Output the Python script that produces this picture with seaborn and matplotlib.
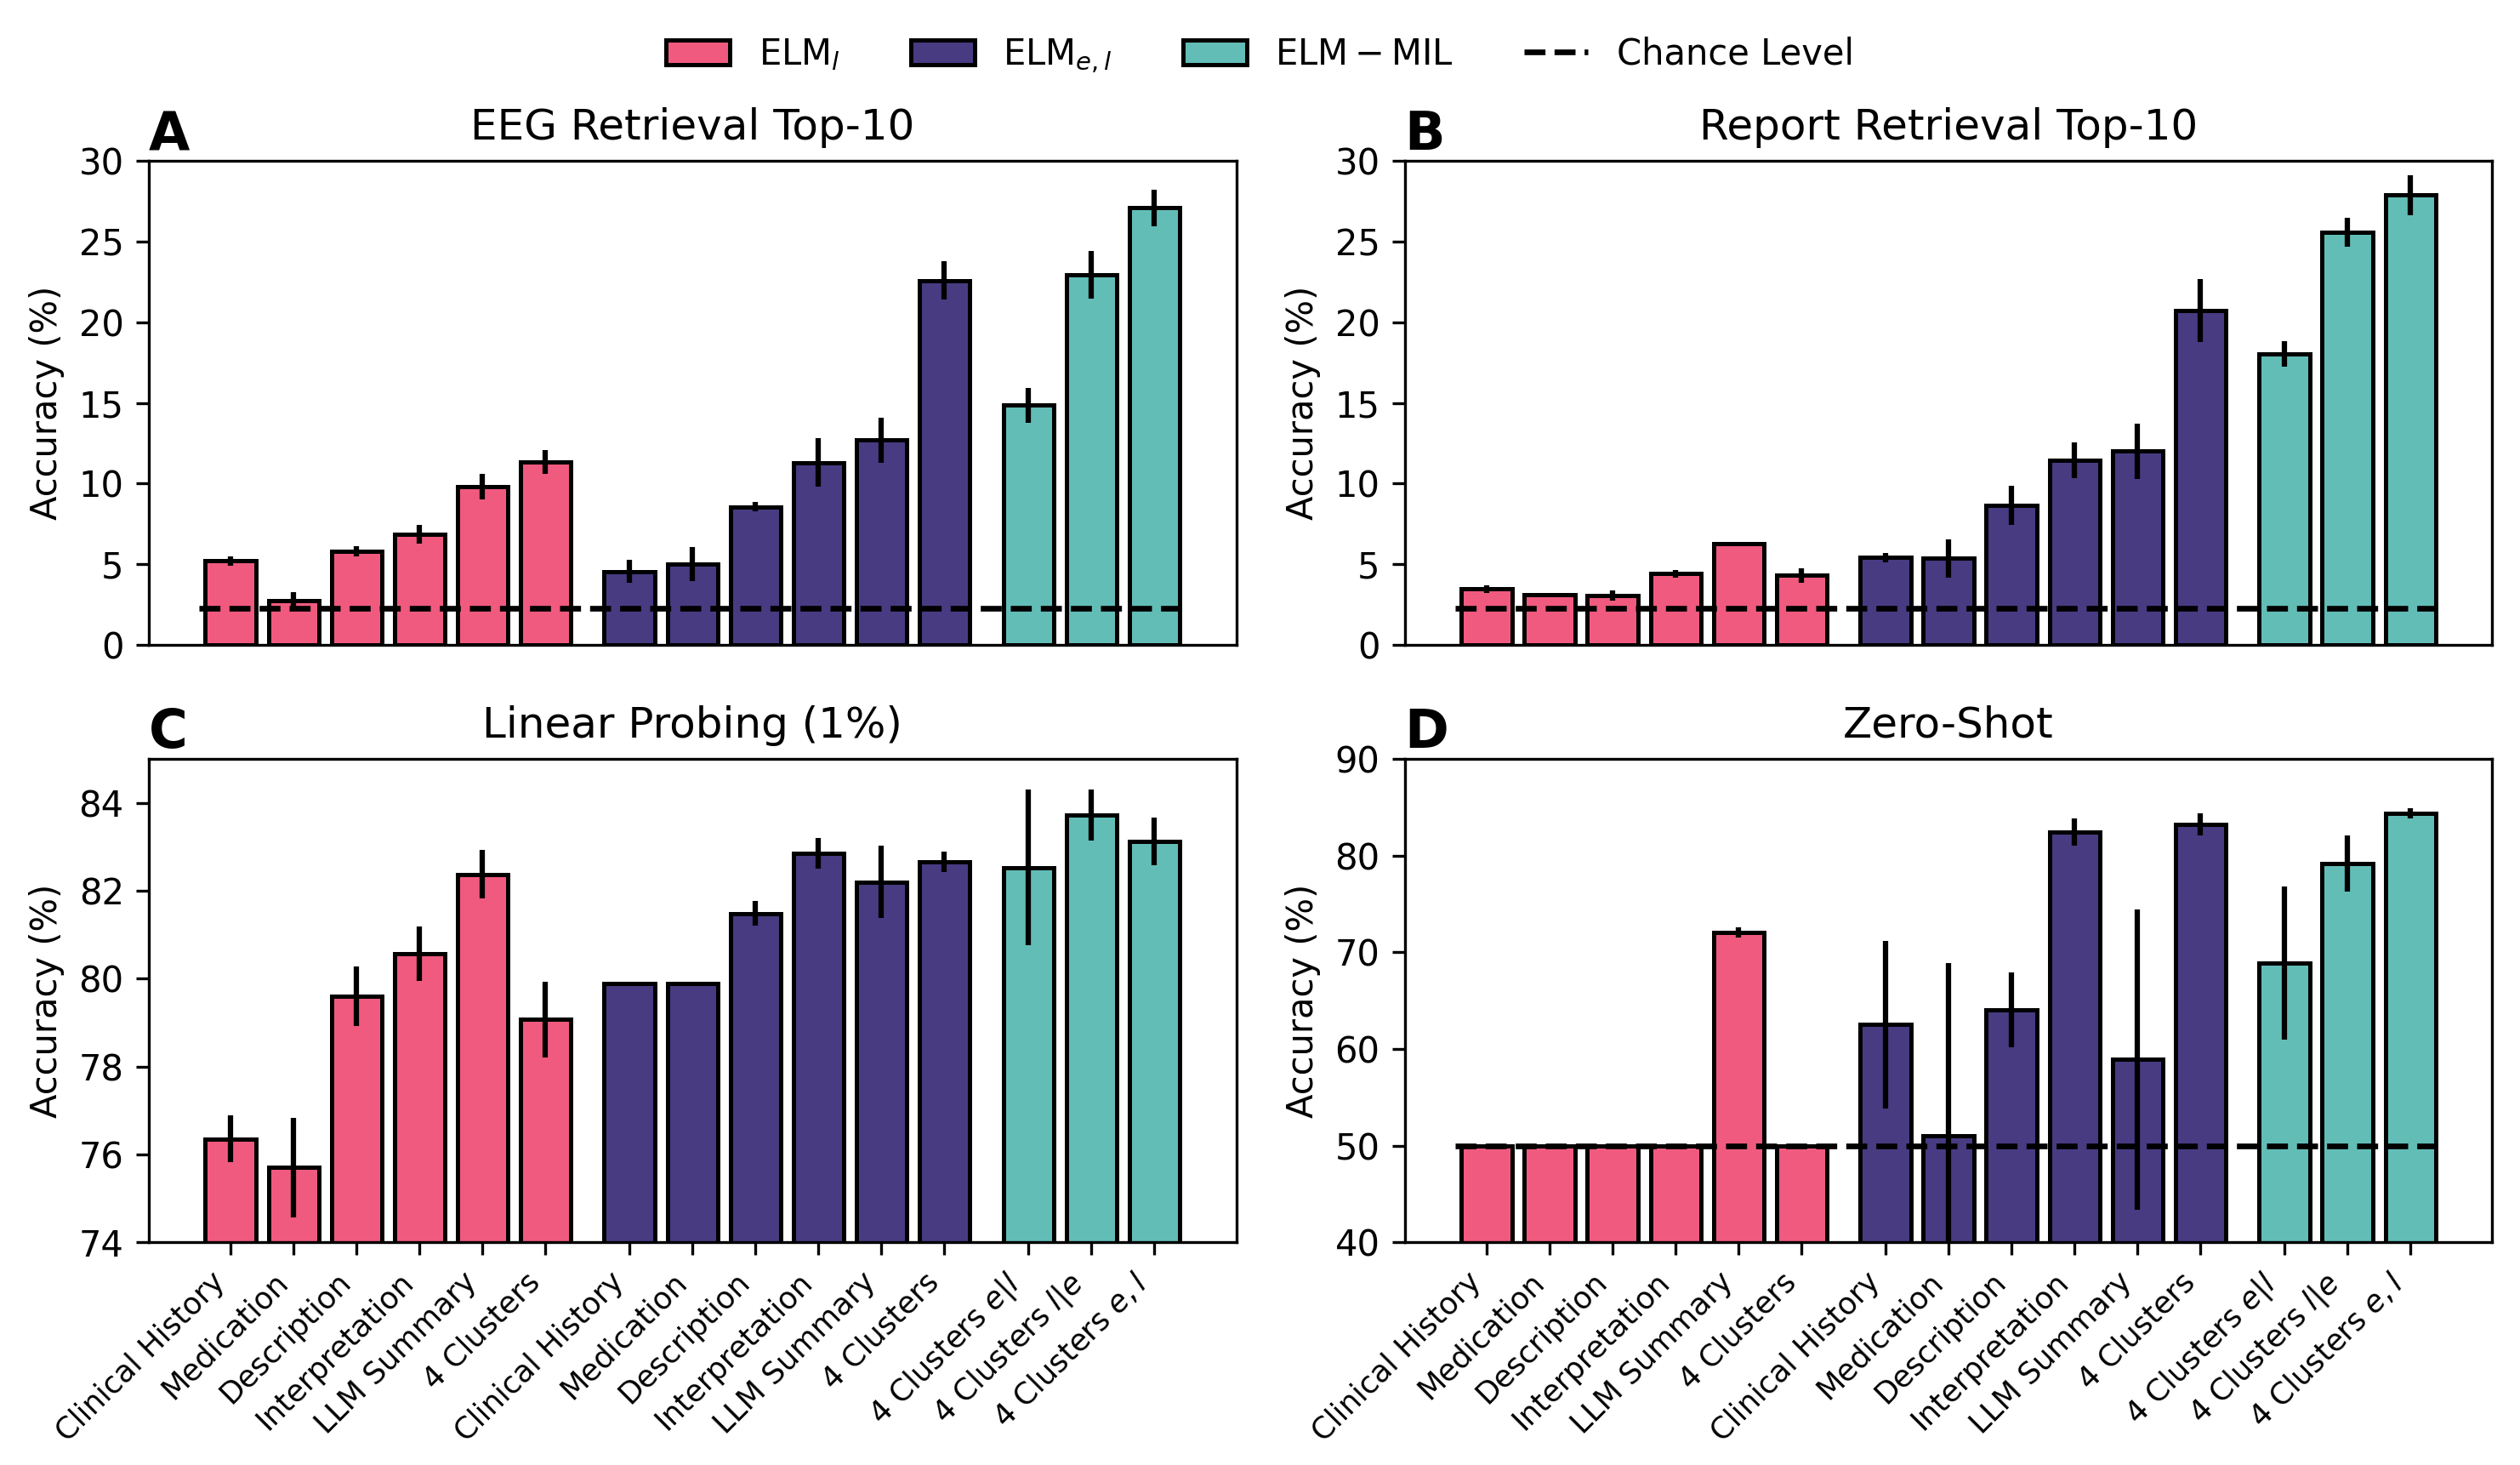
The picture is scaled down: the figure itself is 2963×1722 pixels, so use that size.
import numpy as np
import pandas as pd
import seaborn as sns
import matplotlib.pyplot as plt
from matplotlib.patches import Patch
from matplotlib.lines import Line2D

# labels
TEXT_LABELS = ["Clinical History", "Medication", "Description",
               "Interpretation", "LLM Summary", "4 Clusters"]
MIL_LABELS = ["4 Clusters $e|l$", "4 Clusters $l|e$", "4 Clusters $e,l$"]
GROUPS = ["ELM_l", "ELM_el", "ELM_MIL"]
GROUP_NAMES = [r"$\mathrm{ELM}_l$", r"$\mathrm{ELM}_{e,l}$", r"$\mathrm{ELM-MIL}$"]
COLORS = ["#F05A7E", "#483B82", "#62BDB7"]

# panel A: EEG retrieval top-10
eeg_mean = [5.2, 2.75, 5.8, 6.85, 9.8, 11.35,
            4.55, 5.0, 8.55, 11.3, 12.7, 22.6,
            14.85, 22.95, 27.1]
eeg_err = [0.3, 0.5, 0.3, 0.6, 0.8, 0.75,
           0.7, 1.05, 0.3, 1.5, 1.4, 1.2,
           1.1, 1.5, 1.15]

# panel B: report retrieval top-10
rep_mean = [3.45, 3.1, 3.05, 4.4, 6.25, 4.3,
            5.4, 5.35, 8.65, 11.45, 12.0, 20.75,
            18.05, 25.6, 27.9]
rep_err = [0.25, 0.0, 0.3, 0.25, 0.0, 0.45,
           0.3, 1.2, 1.2, 1.1, 1.7, 1.95,
           0.8, 0.9, 1.25]

# panel C: linear probing 1%
lp_mean = [76.35, 75.7, 79.6, 80.57, 82.37, 79.07,
           79.88, 79.88, 81.48, 82.85, 82.2, 82.65,
           82.53, 83.72, 83.12]
lp_err = [0.53, 1.14, 0.67, 0.62, 0.55, 0.86,
          0.0, 0.0, 0.28, 0.34, 0.82, 0.23,
          1.78, 0.58, 0.55]

# panel D: zero-shot
zs_mean = [50.0, 50.0, 50.0, 50.0, 72.05, 50.0,
           62.5, 51.05, 64.05, 82.45, 58.9, 83.25,
           68.9, 79.15, 84.35]
zs_err = [0.0, 0.0, 0.0, 0.0, 0.5, 0.0,
          8.7, 17.8, 3.9, 1.4, 15.5, 1.15,
          7.9, 2.9, 0.5]

CHANCE_RETRIEVAL = 2.27
CHANCE_ZS = 50.0

# bar positions: three groups separated by a small gap
GAP = 1 / 3
xpos = np.concatenate([np.arange(6), np.arange(6) + 6 + GAP, np.arange(3) + 12 + 2 * GAP])
group_of = [GROUPS[0]] * 6 + [GROUPS[1]] * 6 + [GROUPS[2]] * 3
xlabels = TEXT_LABELS + TEXT_LABELS + MIL_LABELS

panels = [
    ("A", "EEG Retrieval Top-10", eeg_mean, eeg_err, (0, 30), np.arange(0, 31, 5), CHANCE_RETRIEVAL),
    ("B", "Report Retrieval Top-10", rep_mean, rep_err, (0, 30), np.arange(0, 31, 5), CHANCE_RETRIEVAL),
    ("C", "Linear Probing (1%)", lp_mean, lp_err, (74, 85), np.arange(74, 85, 2), None),
    ("D", "Zero-Shot", zs_mean, zs_err, (40, 90), np.arange(40, 91, 10), CHANCE_ZS),
]

fig, axes = plt.subplots(2, 2, figsize=(2963 / 300, 1722 / 300), dpi=300)
fig.subplots_adjust(left=0.059, right=0.989, top=0.890, bottom=0.152,
                    wspace=0.155, hspace=0.236)

for ax, (letter, title, mean, err, ylim, yticks, chance) in zip(axes.flat, panels):
    df = pd.DataFrame({"pos": xpos, "acc": mean, "group": group_of})
    sns.barplot(data=df, x="pos", y="acc", hue="group", hue_order=GROUPS,
                palette=COLORS, saturation=1, native_scale=True, dodge=False, width=0.8,
                edgecolor="black", linewidth=1.2, errorbar=None, legend=False, ax=ax)
    ax.errorbar(xpos, mean, yerr=err, fmt="none", ecolor="black", elinewidth=1.5,
                capsize=0, zorder=5)
    if chance is not None:
        ax.hlines(chance, xpos[0] - 0.5, xpos[-1] + 0.5, colors="black",
                  linestyles="--", linewidth=1.6, zorder=6)
    ax.set_xlim(xpos[0] - 1.3, xpos[-1] + 1.3)
    ax.set_ylim(*ylim)
    ax.set_yticks(yticks)
    ax.tick_params(axis="y", labelsize=10)
    ax.set_ylabel("Accuracy (%)", fontsize=10)
    ax.set_xlabel("")
    ax.set_title(title, fontsize=12)
    ax.text(0.0, 1.0, letter, transform=ax.transAxes, fontsize=15,
            fontweight="bold", ha="left", va="bottom")
    ax.set_xticks(xpos)
    if letter in ("A", "B"):
        ax.tick_params(axis="x", bottom=False, labelbottom=False)
    else:
        ax.set_xticklabels(xlabels, rotation=45, ha="right", fontsize=8.5)

handles = [Patch(facecolor=c, edgecolor="black", linewidth=1.2) for c in COLORS]
handles.append(Line2D([0], [0], color="black", linestyle="--", linewidth=1.6))
fig.legend(handles, GROUP_NAMES + ["Chance Level"], loc="center",
           bbox_to_anchor=(0.5, 0.962), ncol=4, frameon=False, fontsize=10,
           columnspacing=2.0, handlelength=1.8)

fig.savefig("out.png", dpi=300)
